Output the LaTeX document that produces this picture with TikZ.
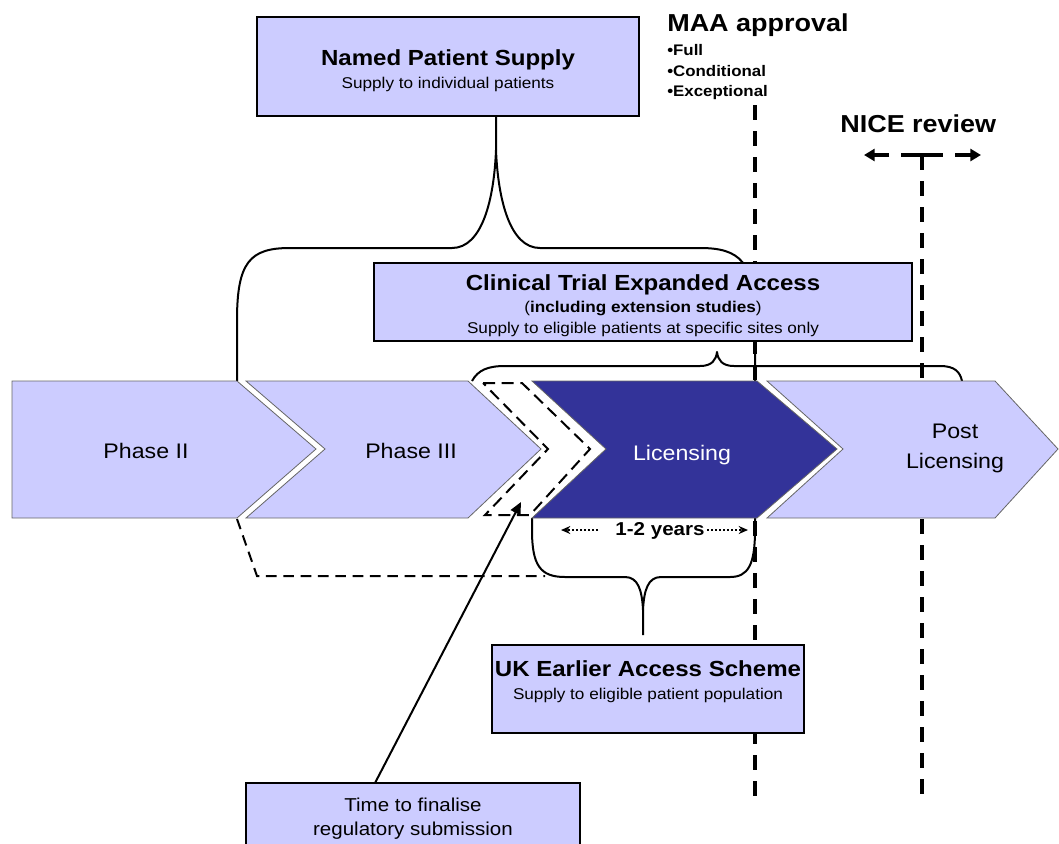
\documentclass[tikz,border=0pt]{standalone}
\usepackage{fontspec}
\setmainfont{Liberation Sans}[FakeStretch=1.1]
\usetikzlibrary{arrows.meta}
\definecolor{lav}{HTML}{CCCCFF}
\definecolor{navy}{HTML}{333399}
\begin{document}
\begin{tikzpicture}[x=0.75pt,y=-0.75pt,
  chev/.style={fill=lav,draw=black!60,line width=0.6pt},
  chevdark/.style={fill=navy,draw=black!60,line width=0.6pt},
  box/.style={fill=lav,draw=black,line width=0.8pt,inner sep=0},
  txt/.style={inner sep=0,anchor=base,align=center},
  brace/.style={draw=black,line width=1.5pt,line join=round},
  milestone/.style={line width=3.7pt,dash pattern=on 11.25pt off 8.25pt},
  arrowseg/.style={line width=3.7pt,-{Triangle[length=8pt,width=9pt]}},
  thindash/.style={line width=1.5pt,dash pattern=on 8pt off 5pt},
  bandash/.style={line width=1.5pt,dash pattern=on 9pt off 5pt,line join=miter},
  dotarrow/.style={line width=1.5pt,dash pattern=on 1.5pt off 1.5pt,-{Stealth[length=7pt,width=6pt]}},
  title/.style={txt,font=\fontsize{16.4}{19}\selectfont\bfseries},
  sub/.style={txt,font=\fontsize{11.7}{14}\selectfont},
  phase/.style={txt,font=\fontsize{15.8}{19}\selectfont},
  big/.style={txt,anchor=base west,font=\fontsize{18.4}{22}\selectfont\bfseries},
]
\clip (0,0) rectangle (1059,843);

% milestone dashed lines (behind everything)
\coordinate (maaTop) at (755,105);
\coordinate (maaBot) at (755,802);
\draw[milestone] (maaTop) -- (maaBot);
\coordinate (niceTop) at (922,155);
\coordinate (niceBot) at (922,796);
\draw[milestone] (niceTop) -- (niceBot);
\coordinate (niceR1) at (943,155);
\coordinate (niceR2) at (955,155);
\coordinate (niceR3) at (981,155);
\coordinate (niceL1) at (901,155);
\coordinate (niceL2) at (889,155);
\coordinate (niceL3) at (864,155);
\draw[line width=3.7pt] (niceTop) -- (niceR1);
\draw[line width=3.7pt] (niceTop) -- (niceL1);
\draw[arrowseg] (niceR2) -- (niceR3);
\draw[arrowseg] (niceL2) -- (niceL3);

% top brace (Named Patient Supply)
\coordinate (npsCusp) at (496,116);
\draw[brace] (237,381) -- (237,320) .. controls (237,262) and (250,248) .. (290,248)
  -- (452,248) .. controls (482,248) and (494,200) .. (496,150) -- (npsCusp);
\draw[brace] (496,150) .. controls (498,200) and (510,248) .. (540,248)
  -- (700,248) .. controls (740,248) and (755,262) .. (755,320) -- (755,381);

% clinical trial brace
\draw[brace] (472,381) .. controls (478,370) and (488,366) .. (505,366) -- (700,366)
  .. controls (712,366) and (716,360) .. (717,352)
  .. controls (718,360) and (722,366) .. (734,366) -- (940,366)
  .. controls (955,366) and (960,372) .. (962,381);

% UK earlier access brace
\draw[brace] (532,518) -- (532,530) .. controls (532,565) and (540,577) .. (565,577)
  -- (625,577) .. controls (638,577) and (642,590) .. (643,610) -- (643,635);
\draw[brace] (643,610) .. controls (644,590) and (648,577) .. (661,577)
  -- (730,577) .. controls (748,577) and (755,565) .. (755,530) -- (755,518);

% dashed connector from Phase II
\draw[thindash] (237,519) -- (257,576) -- (545,576);

% chevrons
\path[chev] (12,381) -- (237,381) -- (316,449) -- (237,518) -- (12,518) -- cycle;
\path[chev] (246,381) -- (468,381) -- (541,449) -- (468,518) -- (246,518) -- (325,449) -- cycle;
\path[chevdark] (532,381) -- (757,381) -- (837,449) -- (757,518) -- (532,518) -- (606,449) -- cycle;
\path[chev] (767,381) -- (995,381) -- (1058,449) -- (995,518) -- (767,518) -- (843,449) -- cycle;
\draw[bandash] (483,383) -- (522,383) -- (590,449) -- (530,515) -- (485,515) -- (548,449) -- cycle;

\node[phase] (p2) at (146,458) {Phase II};
\node[phase] (p3) at (411,458) {Phase III};
\node[phase,text=white] (lic) at (682,460) {Licensing};
\node[phase] (post1) at (955,438) {Post};
\node[phase] (post2) at (955,468) {Licensing};

% boxes
\node[box,minimum width=286.5pt,minimum height=74.25pt] (nps) at (448,66.5) {};
\node[title] (npsT) at (448,65) {Named Patient Supply};
\node[sub] (npsS) at (448,88) {Supply to individual patients};

\node[box,minimum width=403.5pt,minimum height=58.5pt] (ctea) at (643,302) {};
\node[title] (cteaT) at (643,290) {Clinical Trial Expanded Access};
\node[sub] (cteaP) at (643,312) {(\textbf{including extension studies})};
\node[sub] (cteaS) at (643,333) {Supply to eligible patients at specific sites only};

\node[box,minimum width=234pt,minimum height=66pt] (uk) at (648,689) {};
\node[title] (ukT) at (648,676) {UK Earlier Access Scheme};
\node[sub] (ukS) at (648,699) {Supply to eligible patient population};

\node[box,minimum width=250.5pt,minimum height=60pt] (time) at (413,823) {};
\node[txt,font=\fontsize{14}{17}\selectfont] (timeA) at (413,811) {Time to finalise};
\node[txt,font=\fontsize{14}{17}\selectfont] (timeB) at (413,835) {regulatory submission};

% time arrow
\coordinate (tStart) at (375,783);
\coordinate (tTip) at (521,502);
\draw[line width=1.5pt,-{Triangle[length=9pt,width=8pt]}] (tStart) -- (tTip);

% 1-2 years
\node[txt,font=\fontsize{14}{17}\selectfont\bfseries] (yrs) at (660,535) {1-2 years};
\coordinate (yl1) at (598,530);
\coordinate (yl2) at (561,530);
\coordinate (yr1) at (707,530);
\coordinate (yr2) at (748,530);
\draw[dotarrow] (yl1) -- (yl2);
\draw[dotarrow] (yr1) -- (yr2);

% labels
\node[big] (maa) at (667,31) {MAA approval};
\node[txt,anchor=base west,font=\fontsize{11.5}{14}\selectfont\bfseries] (b1) at (667,55) {•Full};
\node[txt,anchor=base west,font=\fontsize{11.5}{14}\selectfont\bfseries] (b2) at (667,76) {•Conditional};
\node[txt,anchor=base west,font=\fontsize{11.5}{14}\selectfont\bfseries] (b3) at (667,96) {•Exceptional};
\node[big] (nice) at (840,132) {NICE review};
\end{tikzpicture}
\end{document}
